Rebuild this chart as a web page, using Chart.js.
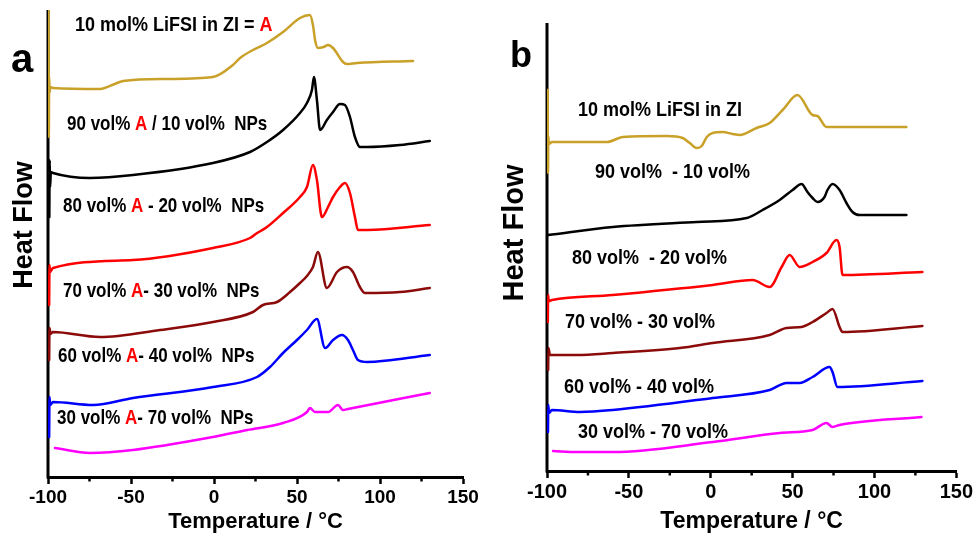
<!DOCTYPE html>
<html>
<head>
<meta charset="utf-8">
<script src="https://cdn.jsdelivr.net/npm/chart.js@4.4.1/dist/chart.umd.min.js"></script>
<style>
  html, body { margin: 0; padding: 0; background: #fff; }
  #wrap { position: relative; width: 975px; height: 537px; overflow: hidden; }
  .panel { position: absolute; top: 0; }
  #pa { left: 0; }
  #pb { left: 487px; }
</style>
</head>
<body>
<div id="wrap">
  <div class="panel" id="pa"><canvas id="cnv-a" width="487" height="537"></canvas></div>
  <div class="panel" id="pb"><canvas id="cnv-b" width="488" height="537"></canvas></div>
</div>
<script>
/* DSC traces, two panels (a: with A marked, b: plain ratios) */

const FONT = "'Liberation Sans', Arial, Helvetica, sans-serif";
const RED = '#ff0000';

// x ticks (°C)
const X_MIN = -100, X_MAX = 150, X_STEP = 50;
const MINOR_TICKS = [-75, -25, 25, 75, 125];

// ---- panel a : temperature (°C) / heat flow (arb. units, offset stacked)
const aGoldT = [-99.7, -99.5, -99.3, -99.0, -98.5, -97, -68.7, -58.4, -54.8, -28.3, -0.6, 11.4, 15.7, 23.5, 31.9, 41.6, 51.8, 57.8, 59.6, 61, 62.6, 66, 68.7, 71.7, 77.7, 80, 86.1, 119.9];
const aGoldH = [466, 340, 400, 385, 390, 389, 388, 394, 396, 398, 400, 412, 419, 427, 434, 445, 459, 462, 452, 436, 429, 430, 432, 429, 415, 413, 414, 416];
const aBlackT = [-99.2, -99.0, -98.7, -98.3, -97, -74.7, -48.8, -0.6, 21.7, 31.9, 41.6, 51.8, 56, 59, 60.2, 62, 63.9, 68, 71.7, 75.9, 78.9, 81.9, 84.9, 87.9, 92.2, 112, 130];
const aBlackH = [260, 317, 290, 305, 304, 299, 302, 314, 325, 335, 347, 364, 374, 387, 400, 377, 347, 357, 365, 373, 372, 360, 340, 330, 330, 332, 336];
const aRedT = [-99.3, -99.1, -98.8, -97, -48.8, -0.6, 21.7, 26, 31.9, 41.6, 51.8, 56, 59.6, 62, 65, 68.7, 71.7, 75.9, 78.9, 81.9, 84.9, 86.7, 92.2, 130];
const aRedH = [172, 212, 205, 209, 217, 229, 239, 244, 250, 264, 280, 290, 312, 297, 260, 270, 280, 290, 294, 284, 260, 247, 247, 252];
const aMaroonT = [-99.3, -99.1, -98.5, -97, -68.7, -32.5, -0.6, 23.5, 29.5, 38, 45.8, 51.8, 56, 59.6, 62.6, 68, 74.1, 80.1, 83.7, 87.9, 91, 112, 130];
const aMaroonH = [117, 149, 143, 145, 140, 147, 155, 165, 172, 175, 185, 194, 201, 210, 225, 189, 205, 210, 205, 190, 184, 185, 189];
const aBlueT = [-99.3, -99.1, -98.7, -97, -72.9, -48.8, -0.6, 25.9, 33.7, 41.6, 50, 56, 62, 66.9, 71.7, 77.1, 80.7, 83.7, 86.7, 92.2, 130];
const aBlueH = [40, 80, 72, 75, 72, 79, 90, 100, 110, 124, 137, 147, 158, 129, 137, 142, 137, 127, 117, 115, 122];
const aPinkT = [-95.8, -74.7, -48.8, -0.6, 20, 41.6, 56, 57.8, 60.8, 68.7, 74.7, 77.7, 80.7, 130];
const aPinkH = [29, 24, 27, 40, 47, 54, 65, 69, 65, 65, 72, 67, 68, 84];

// ---- panel b
const bGoldT = [-99.6, -99.4, -99.2, -98.9, -97, -63.4, -53.7, -26.8, -17.1, -12.8, -8.5, -5.5, -2.4, 1.2, 7.3, 13.4, 17.7, 28, 36, 43.9, 53, 62.2, 65.2, 70.7, 119.5];
const bGoldH = [381, 298, 335, 327, 329, 329, 334, 335, 333, 328, 323, 325, 334, 338, 339, 337, 336, 343, 348, 361, 376, 356, 355, 344, 344];
const bBlackT = [-99.4, -59.8, -8.5, 22, 31.7, 42.1, 50, 55.5, 59.1, 62.2, 65.2, 69.5, 71.3, 74.4, 78.7, 82.9, 86.6, 90.9, 119.5];
const bBlackH = [236, 244, 249, 253, 261, 271, 281, 287, 279, 273, 269, 274, 281, 287, 281, 268, 259, 256, 256];
const bRedT = [-99.5, -99.3, -99.0, -97, -59.8, 1.2, 25.6, 36, 43.3, 48.2, 54.3, 62.2, 70.7, 76.8, 78.7, 80.5, 129.3];
const bRedH = [149, 176, 170, 171, 176, 186, 191, 184, 204, 216, 204, 209, 218, 231, 224, 196, 199];
const bMaroonT = [-99.3, -99.1, -98.2, -81.7, -59.8, -18.9, 1.2, 36, 46.3, 55.5, 62.2, 70.7, 74.4, 78.7, 80.5, 129.3];
const bMaroonH = [101, 123, 116, 116, 118, 123, 128, 136, 143, 144, 149, 158, 162, 144, 139, 145];
const bBlueT = [-99.4, -99.2, -98.8, -97, -79.9, -59.8, 1.2, 36, 46.3, 54.3, 62.2, 72.6, 74.4, 77.4, 129.3];
const bBlueH = [39, 66, 58, 61, 59, 61, 73, 81, 88, 88, 94, 104, 99, 84, 90];
const bPinkT = [-96.3, -81.7, -59.8, 1.2, 42.1, 62.2, 70.7, 74.4, 78.7, 128.7];
const bPinkH = [20, 19, 19, 29, 38, 41, 48, 44, 46, 54];

const COLORS = {
  gold: '#c9a128',
  black: '#000000',
  red: '#ff0000',
  maroon: '#8b0a0a',
  blue: '#0000ff',
  pink: '#ff00ff',
};

function pts(t, h) {
  return t.map((v, i) => ({ x: v, y: h[i] }));
}

function series(key, t, h) {
  return {
    data: pts(t, h),
    borderColor: COLORS[key],
    borderWidth: 2.5,
    pointRadius: 0,
    tension: 0.15,
    cubicInterpolationMode: 'monotone',
    fill: false,
  };
}

// label pieces: [text, color]
const K = '#000';
const PANELS = [
  {
    canvas: 'cnv-a',
    letter: 'a', letterX: 22, letterY: 72, letterSize: 40,
    yTitleX: 25, yTitleY: 225, yTitleSize: 27,
    tickSize: 19, titleSize: 22,
    pad: { left: 48, right: 24, top: 10 }, axisH: 60, yMax: 467,
    sets: [
      series('gold', aGoldT, aGoldH), series('black', aBlackT, aBlackH),
      series('red', aRedT, aRedH), series('maroon', aMaroonT, aMaroonH),
      series('blue', aBlueT, aBlueH), series('pink', aPinkT, aPinkH),
    ],
    labels: [
      { x: 75, y: 25, size: 18, parts: [['10 mol% LiFSI in ZI = ', K], ['A', RED]] },
      { x: 67, y: 125, size: 17, parts: [['90 vol% ', K], ['A', RED], [' / 10 vol%  NPs', K]] },
      { x: 63, y: 207, size: 17, parts: [['80 vol% ', K], ['A', RED], [' - 20 vol%  NPs', K]] },
      { x: 63, y: 292, size: 17, parts: [['70 vol% ', K], ['A', RED], ['- 30 vol%  NPs', K]] },
      { x: 58, y: 357, size: 17, parts: [['60 vol% ', K], ['A', RED], ['- 40 vol%  NPs', K]] },
      { x: 57, y: 419, size: 17, parts: [['30 vol% ', K], ['A', RED], ['- 70 vol%  NPs', K]] },
    ],
  },
  {
    canvas: 'cnv-b',
    letter: 'b', letterX: 34, letterY: 67, letterSize: 36,
    yTitleX: 28, yTitleY: 233, yTitleSize: 29,
    tickSize: 20, titleSize: 23,
    pad: { left: 60, right: 18, top: 23 }, axisH: 66, yMax: 448,
    sets: [
      series('gold', bGoldT, bGoldH), series('black', bBlackT, bBlackH),
      series('red', bRedT, bRedH), series('maroon', bMaroonT, bMaroonH),
      series('blue', bBlueT, bBlueH), series('pink', bPinkT, bPinkH),
    ],
    labels: [
      { x: 91, y: 110, size: 18, parts: [['10 mol% LiFSI in ZI', K]] },
      { x: 108, y: 172, size: 18, parts: [['90 vol%  - 10 vol%', K]] },
      { x: 85, y: 258, size: 18, parts: [['80 vol%  - 20 vol%', K]] },
      { x: 78, y: 322, size: 18, parts: [['70 vol% - 30 vol%', K]] },
      { x: 77, y: 387, size: 18, parts: [['60 vol% - 40 vol%', K]] },
      { x: 91, y: 432, size: 18, parts: [['30 vol% - 70 vol%', K]] },
    ],
  },
];

// left spine, drawn under the traces (gold spike sits on top of it)
const spinePlugin = {
  id: 'spine',
  beforeDatasetsDraw(chart) {
    const { ctx, chartArea } = chart;
    ctx.save();
    ctx.strokeStyle = '#000';
    ctx.lineWidth = 3;
    ctx.beginPath();
    ctx.moveTo(chartArea.left, chartArea.top);
    ctx.lineTo(chartArea.left, chartArea.bottom + 1.5);
    ctx.stroke();
    ctx.restore();
  },
};

// short minor ticks every 25 °C
const minorTickPlugin = {
  id: 'minorTicks',
  afterDraw(chart) {
    const { ctx, chartArea, scales } = chart;
    ctx.save();
    ctx.strokeStyle = '#000';
    ctx.lineWidth = 2.5;
    MINOR_TICKS.forEach(v => {
      const x = scales.x.getPixelForValue(v);
      ctx.beginPath();
      ctx.moveTo(x, chartArea.bottom);
      ctx.lineTo(x, chartArea.bottom + 4.5);
      ctx.stroke();
    });
    ctx.restore();
  },
};

// curve labels (source type is a bit tall, so stretch vertically), panel letter, y title
const textPlugin = {
  id: 'panelText',
  afterDraw(chart) {
    const p = chart.options.plugins.panelText;
    const { ctx } = chart;
    ctx.save();
    ctx.textBaseline = 'middle';
    ctx.textAlign = 'left';
    p.labels.forEach(lb => {
      ctx.save();
      ctx.translate(lb.x, lb.y);
      ctx.scale(1, 1.15);
      ctx.font = `bold ${lb.size}px ${FONT}`;
      let x = 0;
      lb.parts.forEach(([txt, col]) => {
        ctx.fillStyle = col;
        ctx.fillText(txt, x, 0);
        x += ctx.measureText(txt).width;
      });
      ctx.restore();
    });
    ctx.fillStyle = '#000';
    ctx.textBaseline = 'alphabetic';
    ctx.textAlign = 'center';
    ctx.font = `bold ${p.letterSize}px ${FONT}`;
    ctx.fillText(p.letter, p.letterX, p.letterY);

    ctx.translate(p.yTitleX, p.yTitleY);
    ctx.rotate(-Math.PI / 2);
    ctx.textBaseline = 'middle';
    ctx.font = `bold ${p.yTitleSize}px ${FONT}`;
    ctx.fillText('Heat Flow', 0, 0);
    ctx.restore();
  },
};

PANELS.forEach(p => {
  new Chart(document.getElementById(p.canvas), {
    type: 'line',
    data: { datasets: p.sets },
    options: {
      responsive: false,
      animation: false,
      events: [],
      layout: { padding: { left: p.pad.left, right: p.pad.right, top: p.pad.top, bottom: 0 } },
      plugins: {
        legend: { display: false },
        tooltip: { enabled: false },
        panelText: p,
      },
      scales: {
        x: {
          type: 'linear',
          min: X_MIN, max: X_MAX,
          ticks: {
            stepSize: X_STEP,
            color: '#000',
            padding: 2,
            maxRotation: 0,
            font: { family: FONT, size: p.tickSize, weight: 'bold' },
          },
          grid: { drawOnChartArea: false, drawTicks: true, tickLength: 7, tickWidth: 2.5, tickColor: '#000' },
          border: { display: true, color: '#000', width: 3 },
          title: {
            display: true,
            text: 'Temperature / °C',
            color: '#000',
            font: { family: FONT, size: p.titleSize, weight: 'bold' },
            padding: { top: 0, bottom: 2 },
          },
          afterFit: s => { s.height = p.axisH; },
        },
        y: { display: false, min: 0, max: p.yMax },
      },
      elements: { line: { borderJoinStyle: 'round', borderCapStyle: 'round' } },
    },
    plugins: [spinePlugin, minorTickPlugin, textPlugin],
  });
});
</script>
</body>
</html>
